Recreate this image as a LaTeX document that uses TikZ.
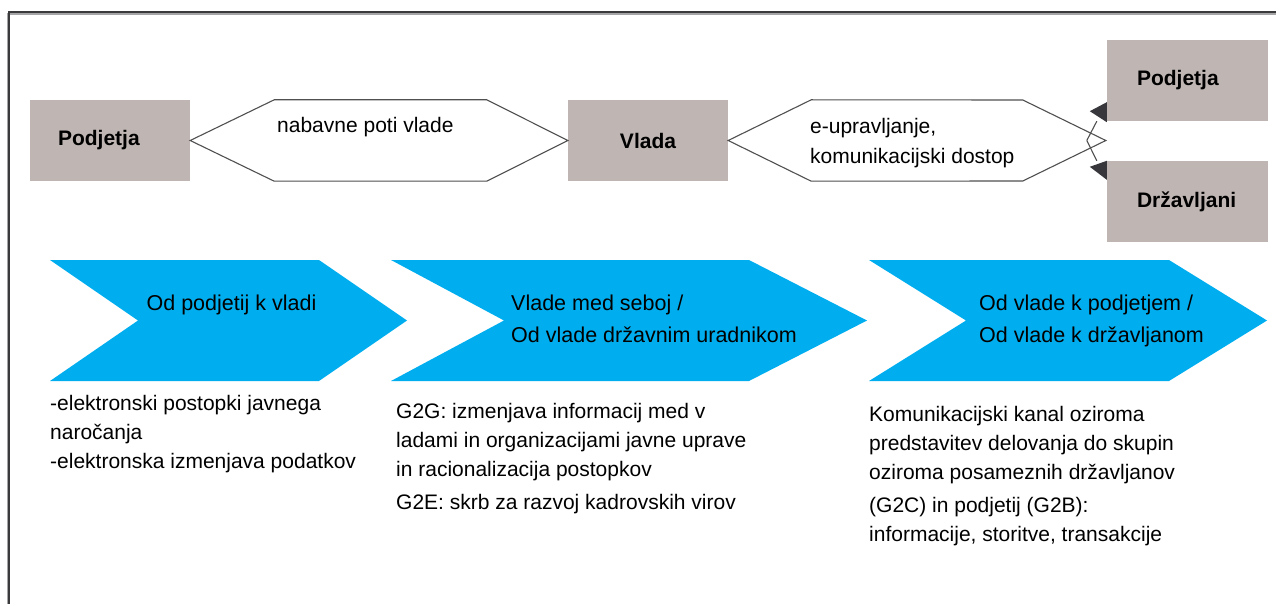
\documentclass[tikz,border=0pt]{standalone}
\usepackage{fontspec}
\setmainfont{Liberation Sans}
\usetikzlibrary{calc}

\definecolor{boxgrey}{RGB}{191,182,179}
\definecolor{chevblue}{RGB}{0,174,239}
\definecolor{framedark}{RGB}{58,58,60}
\definecolor{frameshade}{RGB}{165,165,168}
\definecolor{edgegrey}{RGB}{80,80,80}
\definecolor{tipdark}{RGB}{55,55,60}

\begin{document}
\begin{tikzpicture}[x=1pt,y=-1pt,
  actor/.style={fill=boxgrey, draw=none, minimum width=160, minimum height=81,
    inner ysep=0, font=\fontsize{21}{25}\selectfont\bfseries},
  channel/.style={draw=edgegrey, line width=1.1, fill=white, line join=miter},
  chevron/.style={fill=chevblue, draw=none},
  headtext/.style={inner sep=0, font=\fontsize{21.5}{32}\selectfont, align=left},
  bodytext/.style={inner sep=0, font=\fontsize{21}{29}\selectfont, align=left, anchor=north west},
  link/.style={draw=edgegrey, line width=1.1},
  tip/.style={fill=tipdark, draw=none}]

  % canvas
  \useasboundingbox (0,0) rectangle (1276,604);

  % frame (left and top rules)
  \draw[frameshade, line width=1.2] (7.2,604) -- (7.2,14) -- (1276,14);
  \draw[framedark, line width=2.2] (9,604) -- (9,12.2) -- (1276,12.2);

  % actors
  \node[actor, text width=104, inner xsep=28, align=left] (pl) at (110,140.5) {Podjetja};
  \node[actor] (vl) at (648,140.5) {Vlada};
  \node[actor, text width=101, inner xsep=30, align=left] (pr) at (1187.5,80.5) {Podjetja};
  \node[actor, text width=101, inner xsep=30, align=left] (dz) at (1187.5,201.5) {Državljani};

  % channels between actors
  \draw[channel] (pl.east) -- ($(pl.north east)+(84,0)$) -- ($(vl.north west)+(-81,0)$)
    -- (vl.west) -- ($(vl.south west)+(-81,0)$) -- ($(pl.south east)+(84,0)$) -- cycle;
  \coordinate (hx) at ($(pr.west |- vl.east)+(-1,0)$);
  \draw[channel] (vl.east) -- ($(vl.north east)+(83,0)$) -- ($(hx)+(-83,-40.5)$)
    -- (hx) -- ($(hx)+(-83,40.5)$) -- ($(vl.south east)+(83,0)$) -- cycle;

  \node[inner sep=0, anchor=base west, font=\fontsize{21}{25}\selectfont] (t1) at (277,133) {nabavne poti vlade};
  \node[inner sep=0, anchor=north west, font=\fontsize{21}{30}\selectfont, align=left] (t2) at (810,117.7)
    {e-upravljanje,\\komunikacijski dostop};

  % split towards businesses and citizens
  \coordinate (j) at ($(hx)+(-19,0)$);
  \draw[link] (j) -- ($(pr.south west)+(-10,0)$);
  \draw[link] (j) -- ($(dz.north west)+(-10,0)$);
  \fill[tip] ($(pr.south west)+(0,-19)$) -- ($(pr.south west)+(0,1)$) -- ($(pr.south west)+(-17,-10)$) -- cycle;
  \fill[tip] (dz.north west) -- ($(dz.north west)+(0,19)$) -- ($(dz.north west)+(-17,6)$) -- cycle;

  % process chevrons
  \fill[chevron] (50,260) -- (319,260) -- (407,320.5) -- (319,381) -- (50,381) -- (138,320.5) -- cycle;
  \fill[chevron] (391,260) -- (749,260) -- (867,320.5) -- (749,381) -- (391,381) -- (504,320.5) -- cycle;
  \fill[chevron] (869,260) -- (1169,260) -- (1267,320.5) -- (1169,381) -- (869,381) -- (966,320.5) -- cycle;

  \node[headtext, anchor=base] (c1) at (231.5,310) {Od podjetij k vladi};
  \node[headtext, anchor=north west] (c2) at (511,294.3) {Vlade med seboj /\\Od vlade državnim uradnikom};
  \node[headtext, anchor=north west] (c3) at (979,294.3) {Od vlade k podjetjem /\\Od vlade k državljanom};

  % descriptions
  \node[bodytext] (d1) at (50,394.7)
    {-elektronski postopki javnega\\naročanja\\-elektronska izmenjava podatkov};
  \node[bodytext] (d2) at (396,402.7)
    {G2G: izmenjava informacij med v\\ladami in organizacijami javne uprave\\in racionalizacija postopkov\\[4.5pt]G2E: skrb za razvoj kadrovskih virov};
  \node[bodytext] (d3) at (869,406.2)
    {Komunikacijski kanal oziroma\\predstavitev delovanja do skupin\\oziroma posameznih državljanov\\[4pt](G2C) in podjetij (G2B):\\informacije, storitve, transakcije};
\end{tikzpicture}
\end{document}
